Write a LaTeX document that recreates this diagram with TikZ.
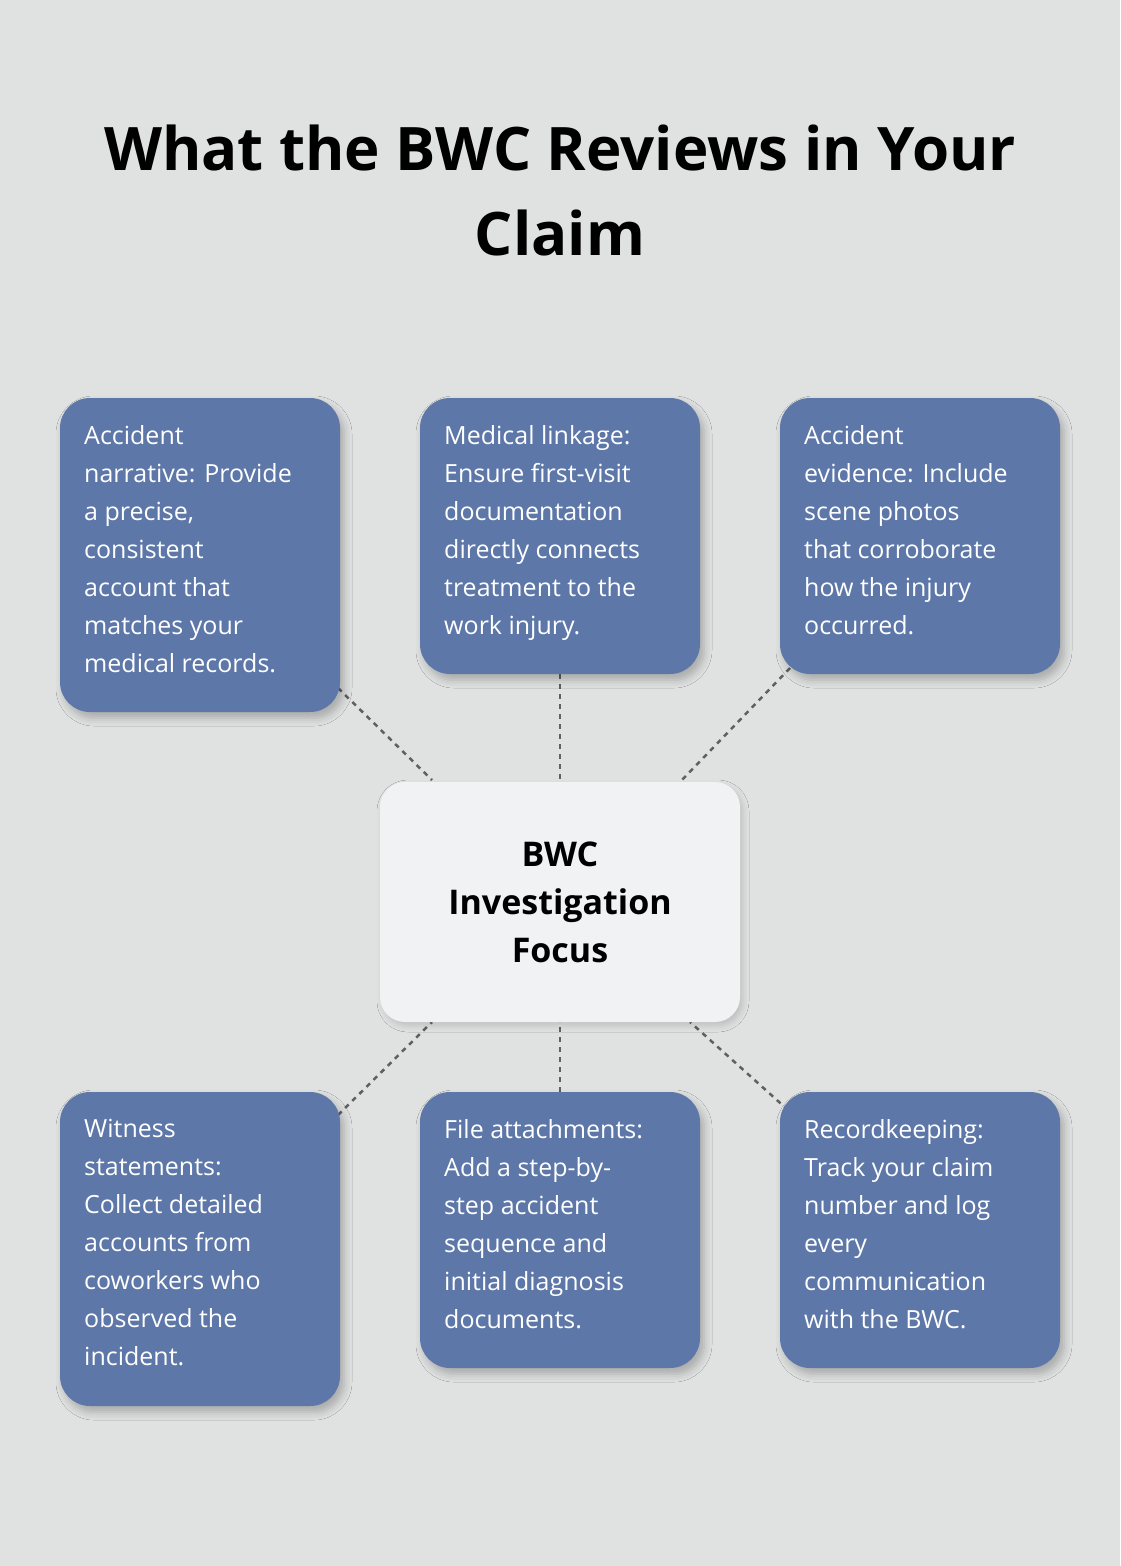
\documentclass[tikz,border=0pt]{standalone}
\usepackage{fontspec}
\setmainfont{Open Sans}
\usetikzlibrary{shadows.blur}
\definecolor{bg}{HTML}{E0E2E1}
\definecolor{boxc}{HTML}{5D77A8}
\definecolor{cen}{HTML}{F0F2F4}
\definecolor{lnc}{HTML}{606060}
\begin{document}
\begin{tikzpicture}[x=1pt,y=-1pt,
  box/.style={fill=boxc,rounded corners=30pt,blur shadow={shadow xshift=4pt,shadow yshift=-6pt,shadow blur radius=8pt,shadow opacity=25}},
  txt/.style={anchor=north west,align=left,text=white,font=\fontsize{25}{38}\selectfont,inner sep=0pt},
  con/.style={draw=lnc,line width=2.5pt,dash pattern=on 5pt off 5pt}]
\fill[bg] (0,0) rectangle (1120,1566);
\useasboundingbox (0,0) rectangle (1120,1566);
\node[font=\bfseries\fontsize{60}{85}\selectfont,align=center] (title) at (560,190) {What the BWC Reviews in Your\\Claim};
% connectors
\coordinate (c1) at (432,780); \coordinate (c2) at (560,782); \coordinate (c3) at (680,782);
\coordinate (c4) at (432,1022); \coordinate (c5) at (560,1022); \coordinate (c6) at (690,1022);
\coordinate (b1) at (338,688); \coordinate (b2) at (560,674); \coordinate (b3) at (790,668);
\coordinate (b4) at (338,1115); \coordinate (b5) at (560,1092); \coordinate (b6) at (788,1110);
\draw[con] (b1)--(c1); \draw[con] (b2)--(c2); \draw[con] (b3)--(c3);
\draw[con] (b4)--(c4); \draw[con] (b5)--(c5); \draw[con] (b6)--(c6);
% boxes
\path[box] (60,398) rectangle (340,712);
\path[box] (420,398) rectangle (700,674);
\path[box] (780,398) rectangle (1060,674);
\path[box] (60,1092) rectangle (340,1406);
\path[box] (420,1092) rectangle (700,1368);
\path[box] (780,1092) rectangle (1060,1368);
\path[fill=cen,rounded corners=25pt,blur shadow={shadow xshift=3pt,shadow yshift=-4pt,shadow blur radius=6pt,shadow opacity=15}] (380,782) rectangle (740,1022);
\node[font=\bfseries\fontsize{34}{48}\selectfont,align=center] (center) at (560,902) {BWC\\Investigation\\Focus};
\node[txt] (t1) at (84,425) {Accident\\narrative: Provide\\a precise,\\consistent\\account that\\matches your\\medical records.};
\node[txt] (t2) at (444,425) {Medical linkage:\\Ensure first-visit\\documentation\\directly connects\\treatment to the\\work injury.};
\node[txt] (t3) at (804,425) {Accident\\evidence: Include\\scene photos\\that corroborate\\how the injury\\occurred.};
\node[txt] (t4) at (84,1119) {Witness\\statements:\\Collect detailed\\accounts from\\coworkers who\\observed the\\incident.};
\node[txt] (t5) at (444,1119) {File attachments:\\Add a step-by-\\step accident\\sequence and\\initial diagnosis\\documents.};
\node[txt] (t6) at (804,1119) {Recordkeeping:\\Track your claim\\number and log\\every\\communication\\with the BWC.};
\end{tikzpicture}
\end{document}
